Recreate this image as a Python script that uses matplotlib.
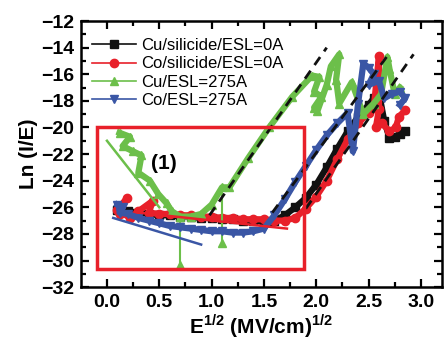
#!/usr/bin/env python3
"""Ln(I/E) vs E^1/2 leakage plot for the four Cu/Co stacks."""

import matplotlib

matplotlib.use("Agg")
import matplotlib.pyplot as plt
from matplotlib.lines import Line2D
from matplotlib.patches import Rectangle

plt.rcParams["font.family"] = ["Liberation Sans", "DejaVu Sans"]
plt.rcParams["mathtext.fontset"] = "custom"
plt.rcParams["mathtext.bf"] = "Liberation Sans:bold"
plt.rcParams["mathtext.rm"] = "Liberation Sans"

LABELS = ["Cu/silicide/ESL=0A", "Co/silicide/ESL=0A", "Cu/ESL=275A", "Co/ESL=275A"]

# Cu/silicide/ESL=0A (black squares)
cu_sil_x = [0.1, 0.2, 0.3, 0.4, 0.5, 0.6, 0.7, 0.8, 0.9, 1.0, 1.1, 1.2, 1.3, 1.4, 1.5,
            1.6, 1.7, 1.8, 1.9, 2.0, 2.1, 2.2, 2.3, 2.4, 2.5, 2.55, 2.6, 2.65, 2.7,
            2.75, 2.8, 2.85]
cu_sil_y = [-26.2, -26.3, -26.4, -26.5, -26.6, -26.6, -26.7, -26.7, -26.8, -26.8, -26.9,
            -26.9, -27.0, -27.0, -27.1, -27.0, -26.6, -26.0, -25.3, -24.3, -23.0, -21.6,
            -20.3, -19.2, -18.3, -17.8, -17.4, -19.5, -20.8, -20.7, -20.5, -20.3]

# Co/silicide/ESL=0A (red circles)
co_sil_x = [0.12, 0.19, 0.1, 0.22, 0.3, 0.44, 0.4, 0.5, 0.6, 0.7, 0.8, 0.9, 1.0, 1.1,
            1.2, 1.3, 1.4, 1.5, 1.6, 1.7, 1.8, 1.9, 2.0, 2.1, 2.2, 2.3, 2.4, 2.5, 2.55,
            2.6, 2.6, 2.57, 2.63, 2.7, 2.76, 2.79, 2.85]
co_sil_y = [-26.5, -25.3, -26.2, -26.8, -26.3, -25.5, -26.4, -26.5, -26.5, -26.6, -26.6,
            -26.7, -26.7, -26.8, -26.8, -26.9, -26.9, -26.9, -27.0, -27.0, -26.8, -26.1,
            -25.2, -24.0, -22.4, -20.9, -19.7, -18.9, -18.5, -14.6, -18.6, -20.0, -19.7,
            -20.3, -20.0, -19.2, -18.7]

# Cu/ESL=275A (green up triangles)
cu_esl_x = [0.12, 0.22, 0.15, 0.25, 0.33, 0.30, 0.41, 0.49, 0.57, 0.62, 0.7, 0.8, 0.9,
            1.0, 1.1, 1.17, 1.35, 1.55, 1.77, 1.96, 2.03, 1.98, 2.05, 1.98, 2.01, 2.1,
            2.14, 2.22, 2.19, 2.22, 2.34, 2.45, 2.55, 2.62, 2.68, 2.7, 2.75, 2.8]
cu_esl_y = [-20.4, -20.7, -21.4, -21.8, -22.1, -23.4, -24.0, -25.0, -25.7, -26.3, -26.7,
            -26.7, -26.5, -25.8, -24.5, -24.5, -22.3, -20.0, -17.7, -16.1, -16.2, -17.3,
            -17.7, -18.5, -18.8, -16.8, -15.4, -14.5, -16.4, -18.2, -16.6, -19.0, -18.2,
            -17.5, -14.7, -15.6, -17.5, -17.0]
# Cu/ESL=275A spikes (thin error-bar like drops)
cu_spike_x = [0.7, 1.1]
cu_spike_lo = [-30.3, -28.7]
cu_spike_hi = [-26.6, -24.3]

# Co/ESL=275A (blue down triangles)
co_esl_x = [0.1, 0.15, 0.12, 0.2, 0.3, 0.4, 0.5, 0.6, 0.7, 0.8, 0.9, 1.0, 1.1, 1.2, 1.3,
            1.4, 1.5, 1.6, 1.7, 1.8, 1.9, 2.0, 2.1, 2.2, 2.3, 2.35, 2.4, 2.45, 2.5, 2.55,
            2.5, 2.6, 2.65, 2.72, 2.8, 2.85, 2.8]
co_esl_y = [-25.8, -26.0, -26.4, -26.5, -26.8, -27.0, -27.2, -27.4, -27.5, -27.6, -27.7,
            -27.8, -27.8, -27.9, -27.9, -27.8, -27.6, -26.6, -25.4, -24.1, -22.9, -21.7,
            -20.6, -19.7, -18.9, -21.8, -18.2, -15.2, -15.5, -16.0, -16.8, -16.5, -17.8,
            -17.5, -17.3, -17.8, -18.3]

# low-field fits (solid) and Poole-Frenkel fits (dashed), as end points
low_fit_x = [[0.0, 0.5], [0.3, 1.72], [0.06, 0.9]]
low_fit_y = [[-21.0, -26.0], [-26.4, -27.6], [-26.8, -28.8]]
pf_fit_x = [[0.98, 2.10], [1.58, 2.71], [1.90, 2.93]]
pf_fit_y = [[-26.6, -14.0], [-26.4, -14.3], [-26.1, -14.5]]

BLACK = "#111111"
RED = "#e8202a"
GREEN = "#6cbf4a"
BLUE = "#3a56a5"

fig = plt.figure(figsize=(4.44, 3.39), dpi=100)
ax = fig.add_axes([0.182, 0.153, 0.813, 0.785])

series = [
    (cu_sil_x, cu_sil_y, BLACK, "s"),
    (co_sil_x, co_sil_y, RED, "o"),
    (cu_esl_x, cu_esl_y, GREEN, "^"),
    (co_esl_x, co_esl_y, BLUE, "v"),
]
handles = []
for z, ((xs, ys, color, marker), label) in enumerate(zip(series, LABELS)):
    ax.plot(xs, ys, color=color, lw=4.5, marker=marker, ms=6, mec=color,
            solid_joinstyle="round", zorder=2 + z)
    handles.append(Line2D([], [], color=color, lw=1.2, marker=marker, ms=6, mec=color))

ax.vlines(cu_spike_x, cu_spike_lo, cu_spike_hi, color=GREEN, lw=1.5, zorder=4)
ax.plot(cu_spike_x, cu_spike_lo, ls="none", marker="^", ms=6, color=GREEN, zorder=4)

for xs, ys, color in zip(low_fit_x, low_fit_y, [GREEN, RED, BLUE]):
    ax.plot(xs, ys, color=color, lw=1.8, zorder=7)

for xs, ys in zip(pf_fit_x, pf_fit_y):
    ax.plot(xs, ys, color=BLACK, lw=2.0, ls=(0, (3.5, 2.5)), zorder=8)

ax.add_patch(Rectangle((-0.1, -30.6), 1.98, 10.6, fill=False, ec=RED, lw=2.5, zorder=9))
ax.text(0.42, -22.7, "(1)", fontsize=15, fontweight="bold", va="center", ha="left")

ax.set_xlim(-0.25, 3.2)
ax.set_ylim(-32, -12)
ax.set_xticks([0.0, 0.5, 1.0, 1.5, 2.0, 2.5, 3.0])
ax.set_xticks([0.25, 0.75, 1.25, 1.75, 2.25, 2.75], minor=True)
ax.set_yticks(range(-32, -11, 2))
ax.set_yticks(range(-31, -12, 2), minor=True)
ax.set_xticklabels([f"{v:.1f}" for v in [0.0, 0.5, 1.0, 1.5, 2.0, 2.5, 3.0]])
ax.tick_params(which="both", direction="in", top=True, right=True, width=1.6)
ax.tick_params(which="major", length=6, labelsize=14, pad=5)
ax.tick_params(which="minor", length=3.5)
for lab in ax.get_xticklabels() + ax.get_yticklabels():
    lab.set_fontweight("bold")
for sp in ax.spines.values():
    sp.set_linewidth(1.8)

ax.set_xlabel(r"E$^{\mathbf{1/2}}$ (MV/cm)$^{\mathbf{1/2}}$", fontsize=15, fontweight="bold", labelpad=1)
ax.set_ylabel("Ln (I/E)", fontsize=15, fontweight="bold", labelpad=2)

ax.legend(handles, LABELS, loc="upper left", frameon=False, fontsize=12,
          handlelength=2.6, handletextpad=0.3, labelspacing=0.2,
          borderaxespad=0.3, bbox_to_anchor=(0.0, 0.98))

fig.savefig("out.png", dpi=100)
